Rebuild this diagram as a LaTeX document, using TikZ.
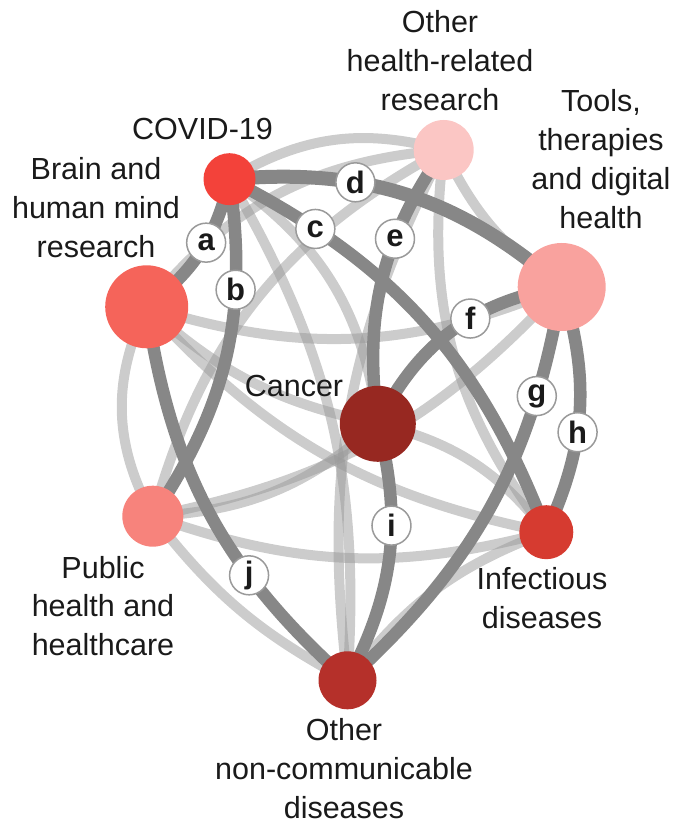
\documentclass[tikz,border=0pt]{standalone}
\usepackage{fontspec}
\setmainfont{Liberation Sans}
\usetikzlibrary{backgrounds}
\definecolor{cC}{HTML}{F3423A}
\definecolor{cO}{HTML}{FBC6C4}
\definecolor{cT}{HTML}{F9A29E}
\definecolor{cB}{HTML}{F5645A}
\definecolor{cK}{HTML}{972821}
\definecolor{cP}{HTML}{F7837C}
\definecolor{cI}{HTML}{D63B30}
\definecolor{cN}{HTML}{B5302A}
\definecolor{darkgr}{HTML}{878787}
\definecolor{lightgr}{HTML}{999999}
\definecolor{labbd}{HTML}{9A9A9A}
\definecolor{txt}{HTML}{1A1A1A}
\begin{document}
\begin{tikzpicture}[x=1pt,y=1pt,
 lightedge/.style={line width=10pt, draw=lightgr, draw opacity=0.5},
 darkedge/.style={line width=12.5pt, draw=darkgr},
 vert/.style={circle, inner sep=0pt, draw=none, minimum size=#1},
 elab/.style={circle, fill=white, draw=labbd, line width=1.5pt, minimum size=39pt, inner sep=0pt, font=\fontsize{31}{33}\selectfont\bfseries, text=txt},
 tlab/.style={align=center, inner sep=0pt, font=\fontsize{30.5}{39}\selectfont, text=txt}]
\useasboundingbox (0,0) rectangle (673,823);

\node[vert=52pt, fill=cC] (C) at (229.5,643.8) {};
\node[vert=60pt, fill=cO] (O) at (443.7,673) {};
\node[vert=88pt, fill=cT] (T) at (561.7,536) {};
\node[vert=83pt, fill=cB] (B) at (146.7,516.2) {};
\node[vert=76pt, fill=cK] (K) at (377.8,399.2) {};
\node[vert=61pt, fill=cP] (P) at (152.8,306.8) {};
\node[vert=54pt, fill=cI] (I) at (546.3,290.8) {};
\node[vert=58pt, fill=cN] (N) at (347.5,142.7) {};

\begin{scope}[on background layer]
\draw[lightedge] (C.center) to[bend left=23] (O.center);
\draw[lightedge] (C.center) to[bend left=24] (K.center);
\draw[lightedge] (C.center) to[bend left=17] (N.center);
\draw[lightedge] (O.center) to[bend right=15] (T.center);
\draw[lightedge] (O.center) to[bend right=23] (B.center);
\draw[lightedge] (O.center) to[bend right=23] (P.center);
\draw[lightedge] (O.center) to[bend right=22] (I.center);
\draw[lightedge] (O.center) to[bend right=17] (N.center);
\draw[lightedge] (B.center) to[bend right=20] (T.center);
\draw[lightedge] (P.center) to[bend right=18] (T.center);
\draw[lightedge] (B.center) to[bend right=15] (K.center);
\draw[lightedge] (B.center) to[bend right=27] (P.center);
\draw[lightedge] (B.center) to[bend right=18] (I.center);
\draw[lightedge] (K.center) to[bend left=19] (P.center);
\draw[lightedge] (K.center) to[bend left=19] (I.center);
\draw[lightedge] (P.center) to[bend right=17] (I.center);
\draw[lightedge] (P.center) to[bend right=12] (N.center);
\draw[lightedge] (I.center) to[bend right=16] (N.center);

\draw[darkedge] (C.center) to[bend left=20] coordinate[pos=0.43] (pa) (B.center);
\draw[darkedge] (C.center) to[bend left=21] coordinate[pos=0.3] (pb) (P.center);
\draw[darkedge] (C.center) to[bend left=21] coordinate[pos=0.19] (pc) (I.center);
\draw[darkedge, line width=14pt] (C.center) to[bend left=23] coordinate[pos=0.34] (pd) (T.center);
\draw[darkedge] (O.center) to[bend right=21] coordinate[pos=0.34] (pe) (K.center);
\draw[darkedge] (T.center) to[bend right=27] coordinate[pos=0.4] (pf) (K.center);
\draw[darkedge] (T.center) to[bend left=19] coordinate[pos=0.23] (pg) (N.center);
\draw[darkedge] (T.center) to[bend left=21] coordinate[pos=0.59] (ph) (I.center);
\draw[darkedge] (K.center) to[bend left=21] coordinate[pos=0.38] (pi) (N.center);
\draw[darkedge] (B.center) to[bend right=20] coordinate[pos=0.68] (pj) (N.center);
\end{scope}

\node[elab] (la) at (pa) {a};
\node[elab] (lb) at (pb) {b};
\node[elab] (lc) at (pc) {c};
\node[elab] (ld) at (pd) {d};
\node[elab] (le) at (pe) {e};
\node[elab] (lf) at (pf) {f};
\node[elab] (lg) at (pg) {g};
\node[elab] (lh) at (ph) {h};
\node[elab] (li) at (pi) {i};
\node[elab] (lj) at (pj) {j};

\node[tlab] (tC) at (202.5,690.8) {\strut COVID-19};
\node[tlab] (tO) at (440,758.8) {\strut Other\\\strut health-related\\\strut research};
\node[tlab] (tT) at (601,660.3) {\strut Tools,\\\strut therapies\\\strut and digital\\\strut health};
\node[tlab] (tB) at (96,611.8) {\strut Brain and\\\strut human mind\\\strut research};
\node[tlab] (tK) at (294,433.8) {\strut Cancer};
\node[tlab] (tP) at (103,213.8) {\strut Public\\\strut health and\\\strut healthcare};
\node[tlab] (tI) at (542,221.8) {\strut Infectious\\\strut diseases};
\node[tlab] (tN) at (344,51.8) {\strut Other\\\strut non-communicable\\\strut diseases};
\end{tikzpicture}
\end{document}
